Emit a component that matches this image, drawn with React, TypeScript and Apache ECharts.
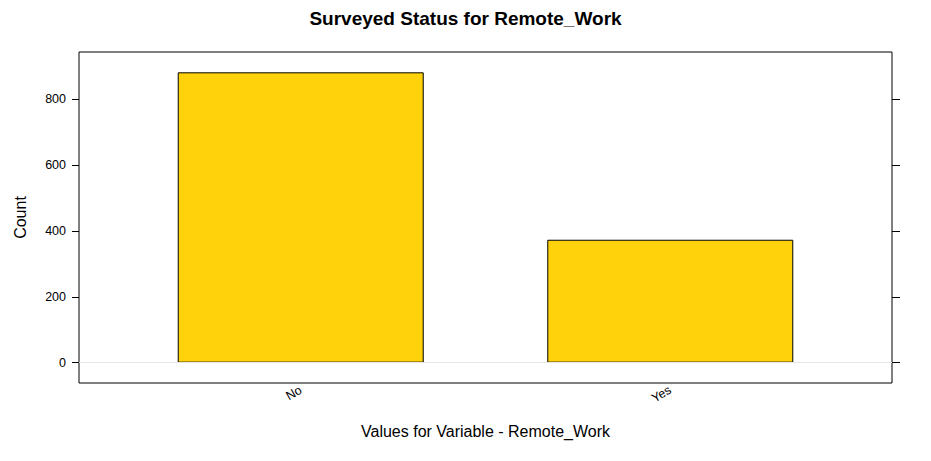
import React, { useEffect, useRef } from "react";
import * as echarts from "echarts";

const categories = ["No", "Yes"];
const counts = [881, 373];
const yTicks = [0, 200, 400, 600, 800];

export default function App() {
  const ref = useRef<HTMLDivElement>(null);
  useEffect(() => {
    if (!ref.current) return;
    const chart = echarts.init(ref.current, null, { renderer: "svg" });
    const maxV = Math.max(...counts);
    const pad = maxV * 0.07;
    const yMin = -pad;
    const yMax = maxV + pad;
    const font = "Liberation Sans, Arial, Helvetica, sans-serif";
    chart.setOption({
      animation: false,
      backgroundColor: "#ffffff",
      textStyle: { fontFamily: font },
      title: {
        text: "Surveyed Status for Remote_Work",
        left: "center",
        top: 4,
        textStyle: { fontFamily: font, fontSize: 19, fontWeight: "bold", color: "#000" },
      },
      grid: {
        left: 79,
        right: 39,
        top: 52,
        bottom: 78,
        show: true,
        borderColor: "#000",
        borderWidth: 1,
        backgroundColor: "transparent",
      },
      xAxis: {
        type: "value",
        min: 0.4,
        max: 2.6,
        name: "Values for Variable - Remote_Work",
        nameLocation: "middle",
        nameGap: 40,
        nameTextStyle: { fontFamily: font, fontSize: 16, color: "#000" },
        axisLine: { show: false },
        axisTick: { show: false },
        splitLine: { show: false },
        axisLabel: {
          customValues: categories.map((_, i) => i + 1),
          formatter: (v: number) => categories[Math.round(v) - 1] ?? "",
          rotate: 30,
          margin: 6,
          fontFamily: font,
          fontSize: 12.5,
          color: "#000",
        },
      },
      yAxis: [
        {
          type: "value",
          min: yMin,
          max: yMax,
          name: "Count",
          nameLocation: "middle",
          nameGap: 51,
          nameTextStyle: { fontFamily: font, fontSize: 16, color: "#000" },
          axisLine: { show: false },
          splitLine: { show: false },
          axisTick: { show: true, length: 7, customValues: yTicks, lineStyle: { color: "#000" } },
          axisLabel: { customValues: yTicks, margin: 13, fontFamily: font, fontSize: 12.5, color: "#000" },
        },
        {
          type: "value",
          position: "right",
          min: yMin,
          max: yMax,
          axisLine: { show: false },
          splitLine: { show: false },
          axisTick: { show: true, length: 8, customValues: yTicks, lineStyle: { color: "#000" } },
          axisLabel: { show: false },
        },
      ],
      series: [
        {
          type: "bar",
          data: counts.map((c, i) => [i + 1, c]),
          barWidth: 246,
          itemStyle: { color: "#FFD20B", borderColor: "#000", borderWidth: 1 },
          markLine: {
            silent: true,
            symbol: "none",
            label: { show: false },
            lineStyle: { color: "#e6e6e6", type: "solid", width: 1 },
            data: [{ yAxis: 0 }],
          },
          z: 3,
        },
      ],
    });
    return () => chart.dispose();
  }, []);
  return (
    <div
      ref={ref}
      style={{ position: "fixed", left: 0, top: 0, width: 931, height: 461, background: "#fff" }}
    />
  );
}
